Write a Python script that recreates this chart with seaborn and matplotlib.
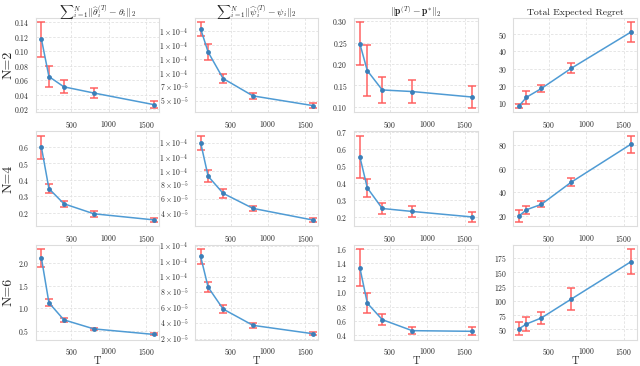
import numpy as np
import pandas as pd
import seaborn as sns
import matplotlib.pyplot as plt
from matplotlib.ticker import FuncFormatter, MaxNLocator

T = [100, 200, 400, 800, 1600]
rows = ['N=2', 'N=4', 'N=6']
titles = [r'${\sum}_{i=1}^{N}\|\widehat{\theta}_i^{(T)}-\theta_i\|_2$',
          r'${\sum}_{i=1}^{N}\|\widehat{\psi}_i^{(T)}-\psi_i\|_2$',
          r'$\|\mathbf{p}^{(T)}-\mathbf{p}^{*}\|_2$',
          'Total Expected Regret']

# theta error
theta_mean = [[0.1164, 0.0649, 0.0507, 0.0422, 0.0262],
              [0.598, 0.347, 0.255, 0.194, 0.157],
              [2.107, 1.121, 0.743, 0.543, 0.421]]
theta_err = [[0.024, 0.014, 0.009, 0.0073, 0.0047],
             [0.072, 0.028, 0.017, 0.019, 0.011],
             [0.20, 0.08, 0.043, 0.03, 0.021]]

# psi error
psi_mean = [[1.79e-4, 1.376e-4, 9.03e-5, 5.92e-5, 4.19e-5],
            [1.40e-4, 9.27e-5, 6.86e-5, 4.73e-5, 3.09e-5],
            [1.26e-4, 8.63e-5, 5.81e-5, 3.70e-5, 2.62e-5]]
psi_err = [[1.25e-5, 1.5e-5, 8.3e-6, 5.2e-6, 4.3e-6],
           [1.0e-5, 8.6e-6, 6.0e-6, 3.4e-6, 2.3e-6],
           [9.3e-6, 6.6e-6, 4.6e-6, 3.3e-6, 2.1e-6]]

# price error
p_mean = [[0.2479, 0.1845, 0.1392, 0.1355, 0.1226],
          [0.555, 0.370, 0.248, 0.2305, 0.198],
          [1.344, 0.849, 0.620, 0.467, 0.458]]
p_err = [[0.051, 0.060, 0.030, 0.0265, 0.0257],
         [0.125, 0.052, 0.034, 0.030, 0.028],
         [0.254, 0.135, 0.075, 0.052, 0.056]]

# regret
reg_mean = [[8.5, 13.5, 18.6, 30.3, 51.3],
            [20.0, 25.2, 29.8, 48.6, 80.8],
            [51.1, 59.5, 70.1, 103.0, 168.3]]
reg_err = [[1.2, 3.8, 2.2, 2.8, 5.8],
           [4.9, 3.3, 2.4, 3.5, 7.2],
           [11.4, 12.5, 10.3, 18.4, 21.5]]

means = [theta_mean, psi_mean, p_mean, reg_mean]
errs = [theta_err, psi_err, p_err, reg_err]

sns.set_style('whitegrid')
plt.rcParams['font.family'] = 'serif'
plt.rcParams['font.serif'] = ['cmr10', 'DejaVu Serif']
plt.rcParams['mathtext.fontset'] = 'cm'
plt.rcParams['axes.unicode_minus'] = False
plt.rcParams['axes.formatter.use_mathtext'] = True


def sci_trunc(v, pos):
    if v <= 0:
        return ''
    e = int(np.floor(np.log10(v) + 1e-9))
    c = int(v / 10 ** e + 1e-6)
    return r'$%d\times10^{%d}$' % (c, e)


fig, axes = plt.subplots(3, 4, figsize=(6.4, 3.66), dpi=100)
fig.subplots_adjust(left=0.056, right=0.995, top=0.952, bottom=0.072,
                    wspace=0.29, hspace=0.20)

for r in range(3):
    for c in range(4):
        ax = axes[r, c]
        df = pd.DataFrame({'T': T, 'val': means[c][r], 'err': errs[c][r]})
        ax.errorbar(df['T'], df['val'], yerr=df['err'], fmt='none',
                    ecolor='#ff5a5a', alpha=0.8, elinewidth=1.3,
                    capsize=3, capthick=1.3, zorder=2)
        sns.lineplot(data=df, x='T', y='val', ax=ax, color='#4f9bd4',
                     marker='o', markersize=3.5, markeredgewidth=0,
                     markerfacecolor='#3b7fb8', linewidth=1.1, zorder=3)
        ax.set_xticks([500, 1000, 1500])
        ax.yaxis.set_major_locator(MaxNLocator(nbins=7, steps=[1, 2, 2.5, 5, 10]))
        ax.tick_params(labelsize=5.5, pad=1.2)
        ax.grid(True, color='#e2e2e2', linestyle=(0, (3, 2)), linewidth=0.6)
        for s in ax.spines.values():
            s.set_color('#dddddd')
            s.set_linewidth(0.8)
        ax.set_ylabel('')
        ax.set_xlabel('T' if r == 2 else '', fontsize=7.5, labelpad=-0.5)
        if c == 1:
            ax.yaxis.set_major_formatter(FuncFormatter(sci_trunc))
        if r == 0:
            ax.set_title(titles[c], fontsize=7, pad=2)
    axes[r, 0].set_ylabel(rows[r], fontsize=10)
    axes[r, 0].yaxis.set_label_coords(-0.175, 0.5)

plt.savefig('out.png', dpi=100)
